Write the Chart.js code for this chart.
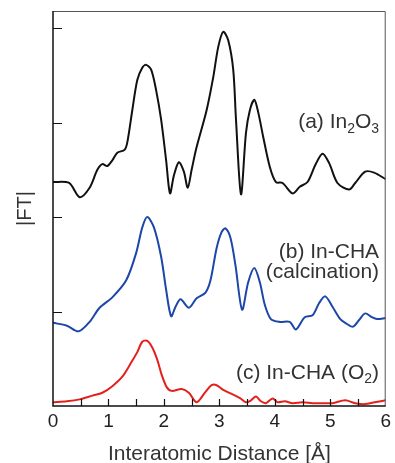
<!DOCTYPE html>
<html lang="en">
  <head>
    <meta charset="utf-8" />
    <title>FT EXAFS</title>
    <style>
      html, body { margin: 0; padding: 0; background: #fff; overflow: hidden; }
      .chartBox { width: 395px; height: 463px; }
    </style>
  </head>
  <body>
    <div class="chartBox">
      <canvas id="myChart"></canvas>
    </div>

    <script src="https://cdn.jsdelivr.net/npm/chart.js/dist/chart.umd.min.js"></script>
    <script>
      // data (distance in Å, |FT| in arbitrary units, curves offset)
      const distA = [0.00, 0.29, 0.48, 0.66, 0.80, 0.89, 0.98, 1.07, 1.16, 1.29, 1.34, 1.43, 1.52, 1.61, 1.68, 1.77, 1.86, 1.95, 2.04, 2.11, 2.18, 2.27, 2.36, 2.43, 2.50, 2.59, 2.77, 2.89, 2.98, 3.07, 3.16, 3.25, 3.30, 3.39, 3.48, 3.55, 3.63, 3.70, 3.79, 3.91, 4.02, 4.14, 4.32, 4.45, 4.59, 4.73, 4.86, 4.98, 5.13, 5.34, 5.45, 5.63, 5.79, 6.00];
      const ftA = [2.37, 2.36, 2.21, 2.31, 2.50, 2.56, 2.54, 2.60, 2.68, 2.71, 2.79, 3.13, 3.45, 3.58, 3.61, 3.56, 3.34, 3.03, 2.60, 2.25, 2.44, 2.58, 2.48, 2.31, 2.50, 2.74, 3.13, 3.48, 3.80, 3.96, 3.87, 3.56, 3.03, 2.24, 2.89, 3.13, 3.24, 3.11, 2.85, 2.53, 2.37, 2.36, 2.25, 2.32, 2.37, 2.55, 2.67, 2.57, 2.36, 2.29, 2.36, 2.48, 2.47, 2.40];

      const distB = [0.00, 0.25, 0.46, 0.66, 0.84, 1.07, 1.32, 1.50, 1.61, 1.70, 1.82, 1.95, 2.04, 2.13, 2.21, 2.30, 2.45, 2.59, 2.75, 2.84, 2.95, 3.04, 3.11, 3.20, 3.29, 3.41, 3.52, 3.63, 3.73, 3.82, 3.93, 4.09, 4.27, 4.38, 4.54, 4.68, 4.80, 4.91, 5.04, 5.18, 5.27, 5.41, 5.52, 5.63, 5.75, 5.84, 6.00];
      const ftB = [0.88, 0.85, 0.79, 0.89, 1.04, 1.15, 1.33, 1.62, 1.89, 2.00, 1.89, 1.58, 1.23, 0.95, 1.05, 1.13, 1.04, 1.14, 1.20, 1.33, 1.67, 1.84, 1.88, 1.78, 1.49, 1.02, 1.31, 1.46, 1.31, 1.07, 0.92, 0.89, 0.89, 0.81, 0.94, 0.96, 1.09, 1.16, 1.05, 0.92, 0.88, 0.84, 0.91, 0.98, 0.94, 0.92, 0.93];

      const distC = [0.00, 0.25, 0.48, 0.71, 0.89, 1.07, 1.25, 1.41, 1.52, 1.61, 1.70, 1.79, 1.88, 1.96, 2.05, 2.14, 2.32, 2.45, 2.59, 2.75, 2.86, 2.95, 3.07, 3.25, 3.38, 3.48, 3.57, 3.66, 3.75, 3.84, 3.96, 4.05, 4.18, 4.32, 4.50, 4.68, 4.86, 5.04, 5.27, 5.45, 5.63, 5.80, 6.00];
      const ftC = [0.04, 0.05, 0.07, 0.11, 0.14, 0.21, 0.31, 0.46, 0.57, 0.68, 0.69, 0.62, 0.49, 0.33, 0.20, 0.16, 0.18, 0.14, 0.04, 0.15, 0.22, 0.22, 0.17, 0.12, 0.08, 0.04, 0.06, 0.10, 0.05, 0.03, 0.08, 0.04, 0.05, 0.03, 0.04, 0.03, 0.03, 0.03, 0.06, 0.03, 0.02, 0.04, 0.06];

      const seriesColors = ["#111111", "#1c46a8", "#e3211c"];
      const seriesLabels = [["(a) In_2O_3"], ["(b) In-CHA", "(calcination)"], ["(c) In-CHA (O_2)"]];
      const labelAnchors = [[5.88, 3.0], [5.88, 1.63], [5.88, 0.35]]; // right edge, first line centre
      const xTickLabels = [0, 1, 2, 3, 4, 5, 6];
      const yMarks = [1, 2, 3, 4];

      const toPts = (xs, ys) => xs.map((v, i) => ({ x: v, y: ys[i] }));
      const series = [toPts(distA, ftA), toPts(distB, ftB), toPts(distC, ftC)];

      const FONT = "Arial, 'Liberation Sans', sans-serif";

      function drawRich(ctx, text, xRight, yMid, size) {
        const parts = text.split(/_(\d)/);
        const subSize = Math.round(size * 0.68);
        let total = 0;
        const widths = parts.map((p, i) => {
          ctx.font = (i % 2 ? subSize : size) + "px " + FONT;
          const w = ctx.measureText(p).width;
          total += w;
          return w;
        });
        let x = xRight - total;
        parts.forEach((p, i) => {
          const sub = i % 2 === 1;
          ctx.font = (sub ? subSize : size) + "px " + FONT;
          ctx.fillText(p, x, sub ? yMid + size * 0.3 : yMid);
          x += widths[i];
        });
      }

      const frame = {
        id: "frame",
        afterDraw(chart) {
          const { ctx, chartArea: a, scales: { x, y } } = chart;
          ctx.save();
          // top & right frame
          ctx.strokeStyle = "#555";
          ctx.lineWidth = 1;
          ctx.beginPath();
          ctx.moveTo(a.left, a.top + 0.5);
          ctx.lineTo(a.right - 0.5, a.top + 0.5);
          ctx.lineTo(a.right - 0.5, a.bottom);
          ctx.stroke();
          // left & bottom axes
          ctx.strokeStyle = "#111";
          ctx.lineWidth = 1.5;
          ctx.beginPath();
          ctx.moveTo(a.left, a.top);
          ctx.lineTo(a.left, a.bottom);
          ctx.lineTo(a.right, a.bottom);
          ctx.stroke();
          // inward ticks
          ctx.lineWidth = 1.2;
          ctx.beginPath();
          yMarks.forEach((v) => {
            const py = Math.round(y.getPixelForValue(v)) + 0.5;
            ctx.moveTo(a.left, py);
            ctx.lineTo(a.left + 9, py);
          });
          for (let v = 0.5; v < 6; v += 0.5) {
            const px = Math.round(x.getPixelForValue(v)) + 0.5;
            ctx.moveTo(px, a.bottom);
            ctx.lineTo(px, a.bottom - 7);
          }
          ctx.stroke();
          // series labels
          ctx.fillStyle = "#333";
          ctx.textBaseline = "middle";
          ctx.textAlign = "left";
          seriesLabels.forEach((lines, i) => {
            const xr = x.getPixelForValue(labelAnchors[i][0]);
            const ym = y.getPixelForValue(labelAnchors[i][1]);
            lines.forEach((t, k) => drawRich(ctx, t, xr, ym + k * 20, 21));
          });
          ctx.restore();
        },
      };

      const config = {
        type: "line",
        data: {
          datasets: series.map((pts, i) => ({
            data: pts,
            borderColor: seriesColors[i],
            borderWidth: 2,
            pointRadius: 0,
            fill: false,
            tension: 0.3,
          })),
        },
        options: {
          responsive: true,
          maintainAspectRatio: false,
          animation: false,
          layout: { padding: { top: 11, right: 6, left: 0, bottom: 0 } },
          scales: {
            x: {
              type: "linear",
              min: 0,
              max: 6,
              afterFit: (s) => { s.height = 57; },
              afterBuildTicks: (s) => { s.ticks = xTickLabels.map((v) => ({ value: v })); },
              grid: { display: false, drawTicks: false },
              border: { display: false },
              ticks: {
                padding: 4,
                color: "#222",
                font: { size: 19, family: FONT },
                maxRotation: 0,
              },
              title: {
                display: true,
                text: "Interatomic Distance [Å]",
                color: "#333",
                font: { size: 21, family: FONT, lineHeight: 0.8 },
                padding: { top: 0, bottom: 0 },
              },
            },
            y: {
              min: 0,
              max: 4.18,
              afterFit: (s) => { s.width = 53; },
              grid: { display: false, drawTicks: false },
              border: { display: false },
              ticks: { display: false },
              title: {
                display: true,
                text: "|FT|",
                color: "#333",
                font: { size: 20, family: FONT },
                padding: { top: 13, bottom: 0 },
              },
            },
          },
          plugins: {
            legend: { display: false },
            tooltip: { enabled: false },
          },
        },
        plugins: [frame],
      };

      const myChart = new Chart(document.getElementById("myChart"), config);
    </script>
  </body>
</html>
